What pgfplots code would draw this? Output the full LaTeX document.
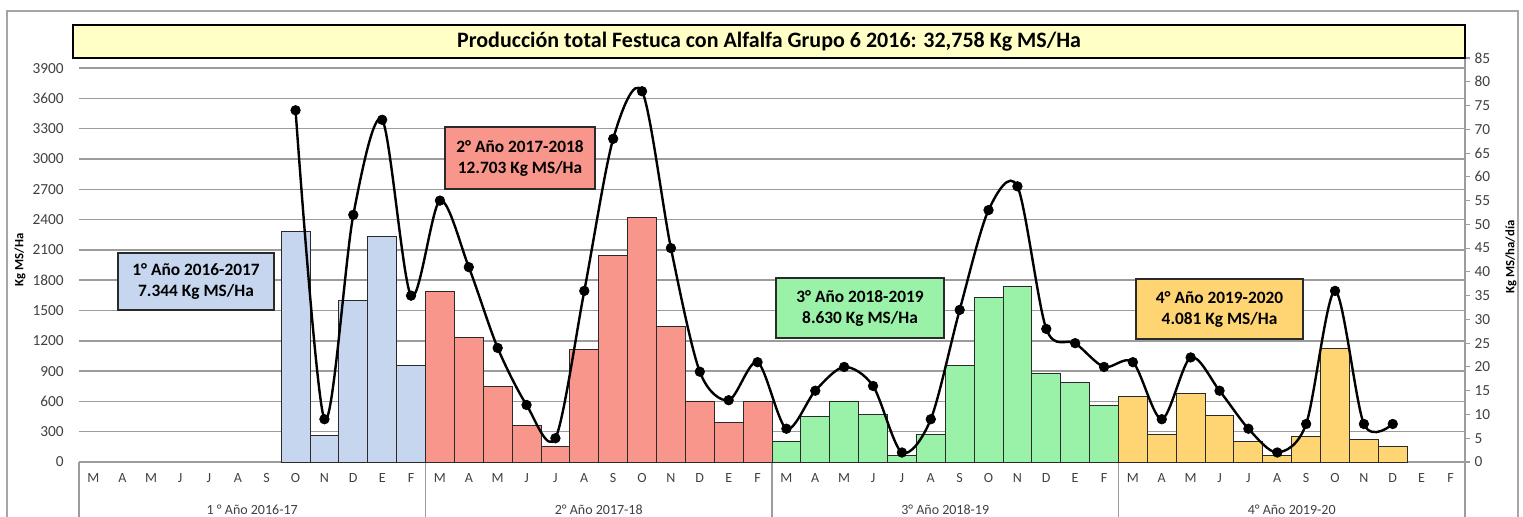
\documentclass[border=0pt]{standalone}
\usepackage{fontspec}
\setmainfont{Carlito}
\usepackage{pgfplots}
\pgfplotsset{compat=1.18}

\definecolor{barblue}{HTML}{C5D6EE}
\definecolor{barred}{HTML}{F8968C}
\definecolor{bargreen}{HTML}{9AF2A8}
\definecolor{baryellow}{HTML}{FFD574}
\definecolor{titleyellow}{HTML}{FFFFC6}
\definecolor{gridgray}{HTML}{9C9C9C}
\definecolor{framegray}{HTML}{A6A6A6}
\definecolor{ticktext}{HTML}{404040}
\definecolor{barline}{HTML}{2A2A2A}

\newcommand{\tickfont}{\fontsize{11.5}{13}\selectfont}
\newcommand{\boxfont}{\fontsize{13}{15.75}\selectfont\bfseries}

\begin{document}
\begin{tikzpicture}
\useasboundingbox (0,0) rectangle (1142.25pt,387.75pt);
\clip (0,0) rectangle (1142.25pt,387.75pt);

% chart frame
\begin{scope}[x=0.75pt,y=0.75pt]
  \draw[framegray, line width=1.1pt] (7,506) rectangle (1518,-10);
\end{scope}

% monthly production (Kg MS/Ha), left axis
\begin{axis}[
  at={(59.25pt,41.25pt)}, anchor=south west,
  scale only axis, width=1039.5pt, height=303pt,
  xmin=-0.5, xmax=47.5, ymin=0, ymax=4000,
  clip=false,
  axis line style={draw=none},
  ytick={0,300,...,3900},
  ymajorgrids,
  grid style={color=gridgray, line width=1.1pt},
  major tick length=0pt,
  xtick pos=bottom, ytick pos=left,
  xtick={0,...,47},
  xticklabels={M,A,M,J,J,A,S,O,N,D,E,F,M,A,M,J,J,A,S,O,N,D,E,F,M,A,M,J,J,A,S,O,N,D,E,F,M,A,M,J,J,A,S,O,N,D,E,F},
  xticklabel style={font=\fontsize{10.5}{12}\selectfont, text=ticktext, anchor=base, yshift=-15.5pt},
  yticklabel style={font=\tickfont, text=ticktext, xshift=-8pt,
    /pgf/number format/1000 sep={}, /pgf/number format/assume math mode=true},
  extra x ticks={-0.5,11.5,23.5,35.5,47.5},
  extra x tick labels={},
  extra x tick style={major tick length=60pt, tick align=outside,
    major tick style={draw=gridgray, line width=1.1pt}},
]
\addplot[ybar, bar width=1, bar shift=0pt, fill=barblue, draw=barline, line width=0.7pt]
  coordinates {(7,2285) (8,265) (9,1600) (10,2235) (11,959)};
\addplot[ybar, bar width=1, bar shift=0pt, fill=barred, draw=barline, line width=0.7pt]
  coordinates {(12,1690) (13,1230) (14,752) (15,358) (16,150) (17,1118)
               (18,2040) (19,2425) (20,1346) (21,604) (22,390) (23,600)};
\addplot[ybar, bar width=1, bar shift=0pt, fill=bargreen, draw=barline, line width=0.7pt]
  coordinates {(24,208) (25,448) (26,604) (27,475) (28,62) (29,277)
               (30,960) (31,1630) (32,1740) (33,880) (34,783) (35,563)};
\addplot[ybar, bar width=1, bar shift=0pt, fill=baryellow, draw=barline, line width=0.7pt]
  coordinates {(36,645) (37,272) (38,680) (39,465) (40,206) (41,66)
               (42,249) (43,1120) (44,224) (45,154)};

% season names under the months
\foreach \c/\t in {5.5/{1 ° Año 2016-17}, 17.5/{2° Año 2017-18}, 29.5/{3° Año 2018-19}, 41.5/{4° Año 2019-20}} {
  \edef\temp{\noexpand\node[anchor=base, font=\noexpand\fontsize{10.5}{12}\noexpand\selectfont, text=ticktext, yshift=-39.5pt] at (axis cs:\c,0) {\t};}
  \temp
}
\end{axis}

% daily growth rate (Kg MS/ha/dia), right axis
\begin{axis}[
  at={(59.25pt,41.25pt)}, anchor=south west,
  scale only axis, width=1039.5pt, height=303pt,
  xmin=-0.5, xmax=47.5, ymin=0, ymax=85,
  axis x line=none,
  axis y line*=right,
  y axis line style={draw=gridgray, line width=1.1pt, -},
  ytick={0,5,...,85},
  tick align=outside, major tick length=3.75pt,
  major tick style={draw=gridgray, line width=0.8pt},
  yticklabel style={font=\tickfont, text=ticktext,
    /pgf/number format/assume math mode=true},
]
\addplot[black, line width=1.8pt, smooth, tension=0.5,
  mark=*, mark size=3.6pt, mark options={fill=black, line width=0.5pt}]
  coordinates {(7,74) (8,9) (9,52) (10,72) (11,35)
               (12,55) (13,41) (14,24) (15,12) (16,5) (17,36)
               (18,68) (19,78) (20,45) (21,19) (22,13) (23,21)
               (24,7) (25,15) (26,20) (27,16) (28,2) (29,9)
               (30,32) (31,53) (32,58) (33,28) (34,25) (35,20)
               (36,21) (37,9) (38,22) (39,15) (40,7) (41,2)
               (42,8) (43,36) (44,8) (45,8)};
\end{axis}

\begin{scope}[x=0.75pt,y=0.75pt]
  % title bar
  \draw[fill=titleyellow, draw=black, line width=1.1pt] (73,492) rectangle (1465,459);
  \node[font=\fontsize{16.5}{19}\selectfont\bfseries] at (769,475) {Producción total Festuca con Alfalfa Grupo 6 2016: 32,758 Kg MS/Ha};
  % axis titles
  \node[rotate=90, font=\fontsize{9.5}{11}\selectfont\bfseries] at (20,257) {Kg MS/Ha};
  \node[rotate=90, font=\fontsize{9.5}{11}\selectfont\bfseries] at (1511,260) {Kg MS/ha/día};
  % season totals
  \node[draw=barline, line width=1.1pt, fill=barblue, minimum width=156*0.75pt, minimum height=57*0.75pt,
        align=center, font=\boxfont] at (196,235.5) {1° Año 2016-2017\\7.344 Kg MS/Ha};
  \node[draw=barline, line width=1.1pt, fill=barred, minimum width=150*0.75pt, minimum height=62*0.75pt,
        align=center, font=\boxfont] at (520,359) {2° Año 2017-2018\\12.703 Kg MS/Ha};
  \node[draw=barline, line width=1.1pt, fill=bargreen, minimum width=168*0.75pt, minimum height=60*0.75pt,
        align=center, font=\boxfont] at (860,209) {3° Año 2018-2019\\8.630 Kg MS/Ha};
  \node[draw=barline, line width=1.1pt, fill=baryellow, minimum width=167*0.75pt, minimum height=60*0.75pt,
        align=center, font=\boxfont] at (1219.5,208) {4° Año 2019-2020\\4.081 Kg MS/Ha};
\end{scope}
\end{tikzpicture}
\end{document}
